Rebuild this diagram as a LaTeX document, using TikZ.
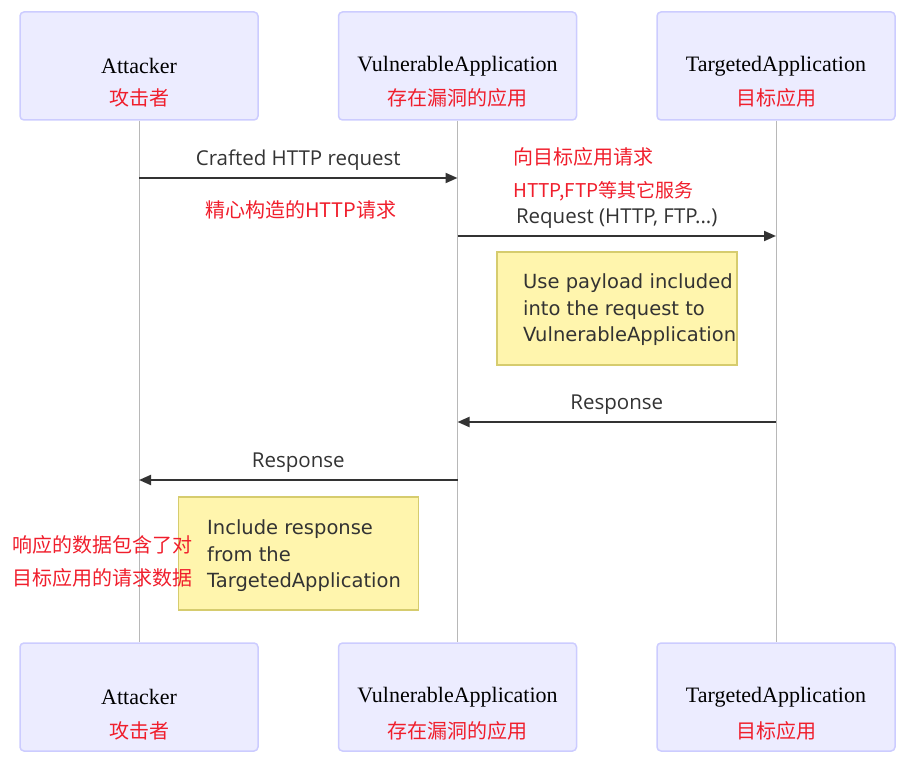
\documentclass[tikz,border=0pt]{standalone}
\usepackage{fontspec}
\setmainfont{Liberation Serif}
\newfontfamily\msgfont{Open Sans}
\newfontfamily\notefont{DejaVu Sans}
\newfontfamily\cjk{Noto Sans CJK SC}
\usetikzlibrary{positioning,calc,arrows.meta}
\definecolor{actorfill}{HTML}{ECECFF}
\definecolor{actordraw}{HTML}{CCCCFF}
\definecolor{notefill}{HTML}{FFF5AD}
\definecolor{notedraw}{HTML}{D6CC6E}
\definecolor{msgcol}{HTML}{333333}
\definecolor{cnred}{HTML}{F01E2C}
\tikzset{
  actor/.style={draw=actordraw,fill=actorfill,line width=1.5pt,rounded corners=4pt,
    minimum width=238pt,minimum height=108pt,font=\fontsize{22}{26}\selectfont},
  cnlabel/.style={text=cnred,font=\cjk\fontsize{20}{24}\selectfont,inner sep=0pt},
  lifeline/.style={draw=black!28,line width=1pt},
  msg/.style={draw=msgcol,line width=2pt,-{Triangle[length=12pt,width=10pt]}},
  msglabel/.style={text=msgcol,font=\msgfont\fontsize{20.5}{24}\selectfont,inner sep=0pt},
  note/.style={draw=notedraw,fill=notefill,line width=1.5pt,minimum width=240pt,minimum height=113pt},
  notetext/.style={text=msgcol,font=\notefont\fontsize{19.5}{26.5}\selectfont,align=left,inner sep=0pt},
}
\begin{document}
\begin{tikzpicture}[x=1pt,y=1pt]
    \useasboundingbox (0,0) rectangle (922,-783);
    % participants, top row
    \node[actor] (att) at (139,-66) {Attacker};
    \node[actor,right=79pt of att] (vul) {VulnerableApplication};
    \node[actor,right=79pt of vul] (tgt) {TargetedApplication};
    \node[cnlabel,below=22pt of att.center] (att-cn) {攻击者};
    \node[cnlabel,below=22pt of vul.center] (vul-cn) {存在漏洞的应用};
    \node[cnlabel,below=22pt of tgt.center] (tgt-cn) {目标应用};
    % participants, bottom row
    \node[actor] (att2) at (139,-697) {Attacker};
    \node[actor,right=79pt of att2] (vul2) {VulnerableApplication};
    \node[actor,right=79pt of vul2] (tgt2) {TargetedApplication};
    \node[cnlabel,below=24pt of att2.center] (att2-cn) {攻击者};
    \node[cnlabel,below=24pt of vul2.center] (vul2-cn) {存在漏洞的应用};
    \node[cnlabel,below=24pt of tgt2.center] (tgt2-cn) {目标应用};
    % lifelines
    \draw[lifeline] (att) -- (att2);
    \draw[lifeline] (vul) -- (vul2);
    \draw[lifeline] (tgt) -- (tgt2);
    % messages
    \draw[msg] (att |- 0,-178) -- node[msglabel,above=7pt] (m1) {Crafted HTTP request} (vul |- 0,-178);
    \node[cnlabel] (m1-cn) at (301,-210) {精心构造的HTTP请求};
    \draw[msg] (vul |- 0,-236) -- node[msglabel,above=7pt] (m2) {Request (HTTP, FTP...)} (tgt |- 0,-236);
    \node[cnlabel,anchor=west] (m2-cn) at (513,-157) {向目标应用请求};
    \node[cnlabel,anchor=west,font=\cjk\fontsize{19}{22}\selectfont] (m2-cn2) at (513,-191) {HTTP,FTP等其它服务};
    \node[note] (note1) at (617,-308.5) {};
    \node[notetext,anchor=west] (note1-txt) at (523,-310) {Use payload included\\into the request to\\VulnerableApplication};
    \draw[msg] (tgt |- 0,-422) -- node[msglabel,above=7pt] (m3) {Response} (vul |- 0,-422);
    \draw[msg] (vul |- 0,-480) -- node[msglabel,above=7pt] (m4) {Response} (att |- 0,-480);
    \node[note] (note2) at (298.5,-553.5) {};
    \node[notetext,anchor=west] (note2-txt) at (207,-556) {Include response\\from the\\TargetedApplication};
    \node[cnlabel,anchor=west,align=left,font=\cjk\fontsize{20}{33}\selectfont] (note2-cn) at (12,-561.5) {响应的数据包含了对\\目标应用的请求数据};
\end{tikzpicture}
\end{document}
